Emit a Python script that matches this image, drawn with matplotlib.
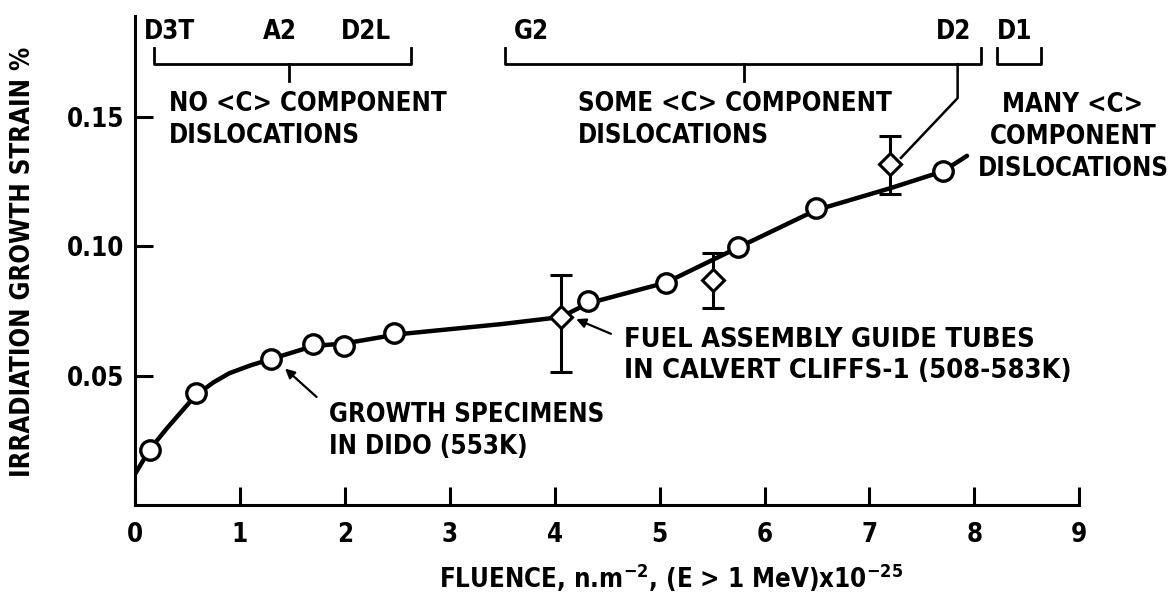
import matplotlib
matplotlib.use("Agg")
import matplotlib.pyplot as plt

plt.rcParams['font.family'] = ['DejaVu Sans']
plt.rcParams['font.stretch'] = 'condensed'
plt.rcParams['font.weight'] = 'bold'
plt.rcParams['axes.labelweight'] = 'bold'
plt.rcParams['mathtext.fontset'] = 'custom'
plt.rcParams['mathtext.rm'] = 'DejaVu Sans:bold:stretch=condensed'
plt.rcParams['mathtext.default'] = 'rm'

# fitted curve
curve_x = [0.0, 0.14, 0.3, 0.45, 0.58, 0.75, 0.9, 1.1, 1.3, 1.5, 1.7, 2.0, 2.5, 3.0, 3.5,
           4.06, 4.32, 5.06, 5.75, 6.49, 7.2, 7.7, 7.93]
curve_y = [0.012, 0.0215, 0.0295, 0.0365, 0.0425, 0.0475, 0.051, 0.054, 0.0565, 0.059, 0.0615,
           0.0625, 0.066, 0.068, 0.070, 0.0727, 0.078, 0.086, 0.0996, 0.114, 0.1225, 0.129, 0.135]

# growth specimens in DIDO (circles)
dido_x = [0.14, 0.58, 1.295, 1.70, 1.99, 2.47, 4.32, 5.06, 5.75, 6.49, 7.70]
dido_y = [0.0215, 0.0435, 0.0565, 0.0623, 0.0615, 0.0665, 0.079, 0.086, 0.0996, 0.115, 0.129]

# guide tubes in Calvert Cliffs-1 (diamonds with range bars)
tube_x = [4.06, 5.51, 7.2]
tube_y = [0.0727, 0.087, 0.132]
tube_lo = [0.0515, 0.0762, 0.1204]
tube_hi = [0.0888, 0.0973, 0.1427]

xticks = [0, 1, 2, 3, 4, 5, 6, 7, 8, 9]
yticks = [0.05, 0.10, 0.15]
ytick_labels = ["0.05", "0.10", "0.15"]

FS = 18.5

fig = plt.figure(figsize=(11.76, 5.95), dpi=100)
ax = fig.add_axes([0.1148, 0.151, 0.803, 0.822])

ax.plot(curve_x, curve_y, color='black', lw=3.2, solid_capstyle='round', zorder=2)

err_lo = [y - lo for y, lo in zip(tube_y, tube_lo)]
err_hi = [hi - y for y, hi in zip(tube_y, tube_hi)]
ax.errorbar(tube_x, tube_y, yerr=[err_lo, err_hi], fmt='D', ms=11, mfc='white', mec='black',
            mew=2.2, ecolor='black', elinewidth=2.2, capsize=8, capthick=2.2, zorder=3)
ax.plot(dido_x, dido_y, 'o', ms=14, mfc='white', mec='black', mew=2.4, zorder=4)

ax.set_xlim(0, 9)
ax.set_ylim(0, 0.189)
ax.set_xticks(xticks)
ax.set_yticks(yticks)
ax.set_yticklabels(ytick_labels)
for s in ['top', 'right']:
    ax.spines[s].set_visible(False)
for s in ['left', 'bottom']:
    ax.spines[s].set_linewidth(2.2)
ax.tick_params(axis='both', direction='in', length=13, width=2.2, labelsize=FS)
ax.tick_params(axis='y', pad=8)
ax.tick_params(axis='x', pad=12)

fig.text(23 / 1176, 1 - 262 / 595, "IRRADIATION GROWTH STRAIN %", fontsize=FS, rotation=90,
         ha='center', va='center')
ax.set_xlabel(r"FLUENCE, n.m$^{-2}$, (E > 1 MeV)x10$^{-25}$", fontsize=FS, fontweight='bold')
ax.xaxis.set_label_coords(0.568, -0.115)

# brackets along the top
def bracket(x0, x1, mid=None):
    y_top, y_bar, y_mid = 0.1765, 0.1704, 0.1638
    ax.plot([x0, x0, x1, x1], [y_top, y_bar, y_bar, y_top], color='black', lw=2, clip_on=False)
    if mid is not None:
        ax.plot([mid, mid], [y_bar, y_mid], color='black', lw=2, clip_on=False)

bracket(0.18, 2.63, 1.47)
bracket(3.53, 8.06, 5.80)
bracket(8.22, 8.63)
ax.plot([7.84, 7.84, 7.30], [0.1704, 0.1573, 0.1342], color='black', lw=1.8, clip_on=False)

for label, x in [("D3T", 0.333), ("A2", 1.38), ("D2L", 2.2), ("G2", 3.78), ("D2", 7.8), ("D1", 8.38)]:
    ax.text(x, 0.1827, label, fontsize=FS, ha='center', va='center', clip_on=False)

ax.text(0.324, 0.149, "NO <C> COMPONENT\nDISLOCATIONS", fontsize=FS, ha='left', va='center',
        linespacing=1.3)
ax.text(4.22, 0.149, "SOME <C> COMPONENT\nDISLOCATIONS", fontsize=FS, ha='left', va='center',
        linespacing=1.3)
ax.text(8.94, 0.1423, "MANY <C>\nCOMPONENT\nDISLOCATIONS", fontsize=FS, ha='center', va='center',
        multialignment='center', linespacing=1.3, clip_on=False)

ax.text(1.85, 0.0285, "GROWTH SPECIMENS\nIN DIDO (553K)", fontsize=FS, ha='left', va='center',
        linespacing=1.3)
ax.annotate("", xy=(1.41, 0.0535), xytext=(1.75, 0.0411),
            arrowprops=dict(arrowstyle='-|>', color='black', lw=1.6, mutation_scale=14))
ax.text(4.66, 0.0577, "FUEL ASSEMBLY GUIDE TUBES\nIN CALVERT CLIFFS-1 (508-583K)", fontsize=19.5,
        ha='left', va='center', linespacing=1.25)
ax.annotate("", xy=(4.18, 0.0723), xytext=(4.56, 0.0658),
            arrowprops=dict(arrowstyle='-|>', color='black', lw=1.6, mutation_scale=14))

fig.savefig("out.png", dpi=100)
